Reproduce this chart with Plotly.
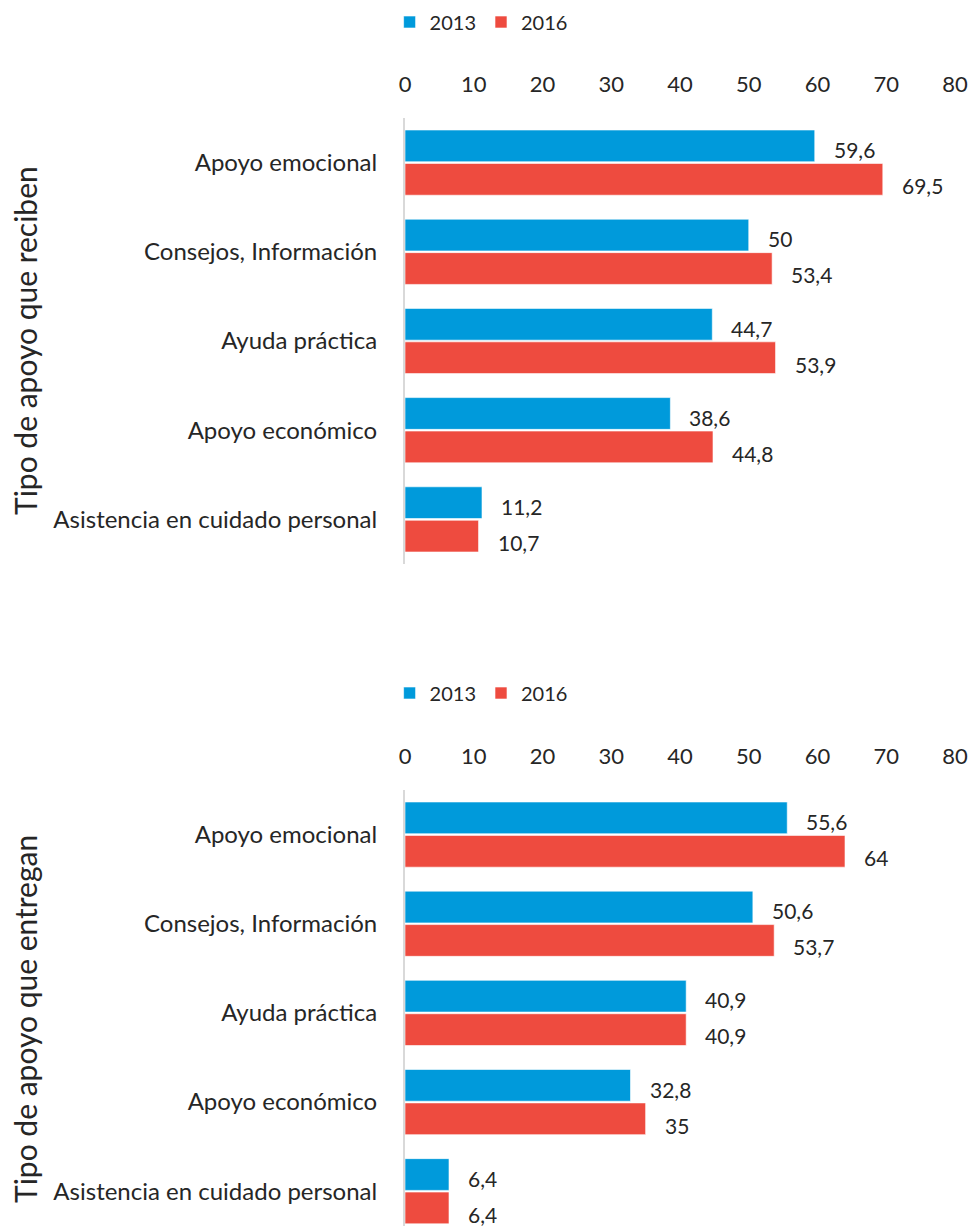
import plotly.graph_objects as go

categories = ["Apoyo emocional", "Consejos, Información", "Ayuda práctica",
              "Apoyo económico", "Asistencia en cuidado personal"]
years = ["2013", "2016"]
reciben_2013 = [59.6, 50, 44.7, 38.6, 11.2]
reciben_2016 = [69.5, 53.4, 53.9, 44.8, 10.7]
entregan_2013 = [55.6, 50.6, 40.9, 32.8, 6.4]
entregan_2016 = [64, 53.7, 40.9, 35, 6.4]
x_ticks = [0, 10, 20, 30, 40, 50, 60, 70, 80]
titles = ["Tipo de apoyo que reciben", "Tipo de apoyo que entregan"]

BLUE = "#009ADB"
RED = "#EE4B3F"
TXT = "#262626"
FONT = "Lato"

W, H = 974, 1226
ML, MR = 405, 19


def fmt(v):
    return f"{v:g}".replace(".", ",")


def py(px):
    return 1 - px / H


fig = go.Figure()

panels = [
    dict(data=[reciben_2013, reciben_2016], xa="x", ya="y", legend="legend",
         dom=[py(564), py(118)], yrange=[4.5, -0.5], title_y=341),
    dict(data=[entregan_2013, entregan_2016], xa="x2", ya="y2", legend="legend2",
         dom=[0, py(790)], yrange=[4.39, -0.5], title_y=1019),
]

annotations = []
for p_i, p in enumerate(panels):
    for s_i, (yr, vals, col) in enumerate(zip(years, p["data"], [BLUE, RED])):
        fig.add_trace(go.Bar(
            x=vals, y=categories, orientation="h", name=yr,
            marker=dict(color=col, line=dict(color="rgba(255,255,255,0.6)", width=1)),
            xaxis=p["xa"], yaxis=p["ya"], legend=p["legend"],
            hoverinfo="skip",
        ))
        for c, v in zip(categories, vals):
            annotations.append(dict(
                x=v, y=c, xref=p["xa"], yref=p["ya"], text=fmt(v),
                showarrow=False, xanchor="left", yanchor="middle",
                xshift=17, yshift=(13 if s_i == 0 else -23),
                font=dict(family=FONT, size=21, color=TXT),
            ))
    annotations.append(dict(
        x=(25 - ML) / (W - ML - MR), y=py(p["title_y"]),
        xref="paper", yref="paper", text=titles[p_i], textangle=-90,
        showarrow=False, xanchor="center", yanchor="middle",
        font=dict(family=FONT, size=30, color=TXT),
    ))

axis_x = dict(range=[0, 80], tickvals=x_ticks, side="top", showgrid=False,
              zeroline=False, showline=False, ticks="", ticklabelstandoff=21,
              tickfont=dict(family=FONT, size=22, color=TXT), fixedrange=True)
axis_y = dict(showgrid=False, zeroline=False, showline=True, linecolor="#D9D9D9",
              linewidth=2, ticks="", ticklabelstandoff=21,
              tickfont=dict(family=FONT, size=24, color=TXT), categoryorder="array",
              categoryarray=categories)

legend_common = dict(orientation="h", x=-0.028, xanchor="left", yanchor="middle",
                     font=dict(family=FONT, size=20, color=TXT), itemwidth=30,
                     tracegroupgap=0, bgcolor="rgba(0,0,0,0)")

fig.update_layout(
    width=W, height=H,
    margin=dict(l=ML, r=MR, t=0, b=0, autoexpand=False),
    paper_bgcolor="white", plot_bgcolor="white",
    barmode="group", bargap=0.25, bargroupgap=0.05,
    xaxis=dict(axis_x, anchor="y"),
    xaxis2=dict(axis_x, anchor="y2"),
    yaxis=dict(axis_y, domain=panels[0]["dom"], range=panels[0]["yrange"], anchor="x"),
    yaxis2=dict(axis_y, domain=panels[1]["dom"], range=panels[1]["yrange"], anchor="x2"),
    legend=dict(legend_common, y=py(22)),
    legend2=dict(legend_common, y=py(693)),
    annotations=annotations,
    showlegend=True,
)

fig.write_html("out.html")
